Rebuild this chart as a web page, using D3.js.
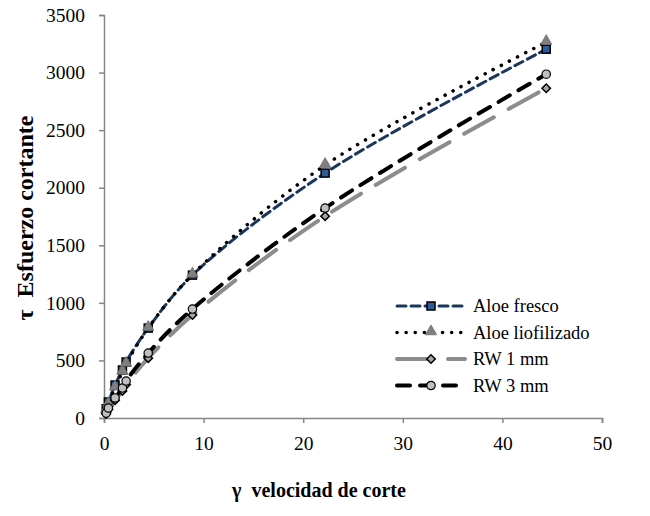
<!DOCTYPE html>
<html>
<head>
<meta charset="utf-8">
<script src="https://cdn.jsdelivr.net/npm/d3@7"></script>
<style>
  body { margin: 0; background: #fff; }
</style>
</head>
<body>
<div id="chart"></div>
<script>
// shear rate (1/s) and shear stress for each sample
var shearRate = [0.22, 0.44, 1.11, 1.85, 2.22, 4.44, 8.88, 22.2, 44.4];
var aloeFresco = [80, 139, 286, 417, 486, 781, 1241, 2127, 3203];
var aloeLiofilizado = [65, 120, 262, 400, 470, 781, 1245, 2196, 3264];
var rw1 = [35, 75, 155, 235, 290, 520, 894, 1753, 2864];
var rw3 = [43, 87, 174, 260, 321, 564, 946, 1823, 2986];
var seriesNames = ['Aloe fresco', 'Aloe liofilizado', 'RW 1 mm', 'RW 3 mm'];
var xTicks = [0, 10, 20, 30, 40, 50];
var yTicks = [0, 500, 1000, 1500, 2000, 2500, 3000, 3500];

var FONT = "'Liberation Serif', 'Times New Roman', serif";
var w = 650, h = 516;
var margin = { top: 15, right: 48, bottom: 98, left: 104 };

var svg = d3.select('#chart').append('svg')
  .attr('width', w)
  .attr('height', h)
  .style('font-family', FONT);

var x = d3.scaleLinear().domain([0, 50]).range([margin.left, w - margin.right]);
var y = d3.scaleLinear().domain([0, 3500]).range([h - margin.bottom, margin.top]);

// axes
var xAxis = svg.append('g')
  .attr('transform', 'translate(0,' + (h - margin.bottom) + ')')
  .call(d3.axisBottom(x).tickValues(xTicks).tickSize(5).tickPadding(13).tickFormat(d3.format('d')));
var yAxis = svg.append('g')
  .attr('transform', 'translate(' + margin.left + ',0)')
  .call(d3.axisLeft(y).tickValues(yTicks).tickSize(5).tickPadding(14).tickFormat(d3.format('d')));

[xAxis, yAxis].forEach(function(a) {
  a.attr('font-family', null);
  a.select('.domain').attr('stroke', '#868686').attr('stroke-width', 1.5);
  a.selectAll('.tick line').attr('stroke', '#868686').attr('stroke-width', 1.5);
  a.selectAll('.tick text')
    .attr('fill', '#000')
    .style('font-size', '19.5px')
    .style('font-family', FONT);
});

// series styles
var styles = [
  { values: aloeFresco, color: '#1b365d', width: 3, dash: '9,5', marker: 'square', fill: '#2e5c9a' },
  { values: aloeLiofilizado, color: '#000', width: 3.5, dash: '0.1,9', marker: 'triangle', fill: '#808080' },
  { values: rw1, color: '#8c8c8c', width: 4, dash: '34,17', marker: 'diamond', fill: '#a6a6a6' },
  { values: rw3, color: '#000', width: 4, dash: '13,10', marker: 'circle', fill: '#bfbfbf' }
];

var line = d3.line()
  .x(function(d) { return x(d[0]); })
  .y(function(d) { return y(d[1]); })
  .curve(d3.curveCatmullRom.alpha(0.5));

function drawMarker(g, type, cx, cy, fill) {
  if (type === 'square') {
    g.append('rect').attr('x', cx - 4).attr('y', cy - 4).attr('width', 8).attr('height', 8)
      .attr('fill', fill).attr('stroke', '#000').attr('stroke-width', 1.5);
  } else if (type === 'triangle') {
    g.append('path')
      .attr('d', d3.symbol().type(d3.symbolTriangle).size(55)())
      .attr('transform', 'translate(' + cx + ',' + (cy - 1) + ')')
      .attr('fill', fill).attr('stroke', '#6b6b6b').attr('stroke-width', 0.8);
  } else if (type === 'diamond') {
    // square turned 45 degrees
    g.append('rect').attr('x', -3).attr('y', -3).attr('width', 6).attr('height', 6)
      .attr('transform', 'translate(' + cx + ',' + cy + ') rotate(45)')
      .attr('fill', fill).attr('stroke', '#000').attr('stroke-width', 1.5);
  } else {
    g.append('circle').attr('cx', cx).attr('cy', cy).attr('r', 4.2)
      .attr('fill', fill).attr('stroke', '#000').attr('stroke-width', 1.2);
  }
}

var plot = svg.append('g');
styles.forEach(function(s) {
  var pts = shearRate.map(function(r, i) { return [r, s.values[i]]; });
  plot.append('path')
    .datum(pts)
    .attr('fill', 'none')
    .attr('stroke', s.color)
    .attr('stroke-width', s.width)
    .attr('stroke-dasharray', s.dash)
    .attr('stroke-linecap', 'round')
    .attr('d', line);
});
styles.forEach(function(s) {
  var g = plot.append('g');
  shearRate.forEach(function(r, i) {
    drawMarker(g, s.marker, x(r), y(s.values[i]), s.fill);
  });
});

// legend
var legend = svg.append('g').attr('transform', 'translate(395,306)');
styles.forEach(function(s, i) {
  var row = legend.append('g').attr('transform', 'translate(0,' + (i * 26.5) + ')');
  row.append('line')
    .attr('x1', 2).attr('x2', 70).attr('y1', 0).attr('y2', 0)
    .attr('stroke', s.color)
    .attr('stroke-width', s.width)
    .attr('stroke-dasharray', s.dash)
    .attr('stroke-linecap', 'round');
  drawMarker(row, s.marker, 36, 0, s.fill);
  row.append('text')
    .attr('x', 78).attr('y', 6)
    .style('font-family', FONT)
    .style('font-size', '18.5px')
    .text(seriesNames[i]);
});

// axis titles (two spaces kept after the symbol)
svg.append('text')
  .attr('x', 319).attr('y', 497)
  .attr('text-anchor', 'middle')
  .style('white-space', 'pre')
  .style('font-family', FONT)
  .style('font-size', '20px')
  .style('font-weight', 'bold')
  .text('\u03b3  velocidad de corte');

svg.append('text')
  .attr('transform', 'translate(33,218) rotate(-90)')
  .attr('text-anchor', 'middle')
  .style('white-space', 'pre')
  .style('font-family', FONT)
  .style('font-size', '24px')
  .style('font-weight', 'bold')
  .text('\u03c4  Esfuerzo cortante');
</script>
</body>
</html>
